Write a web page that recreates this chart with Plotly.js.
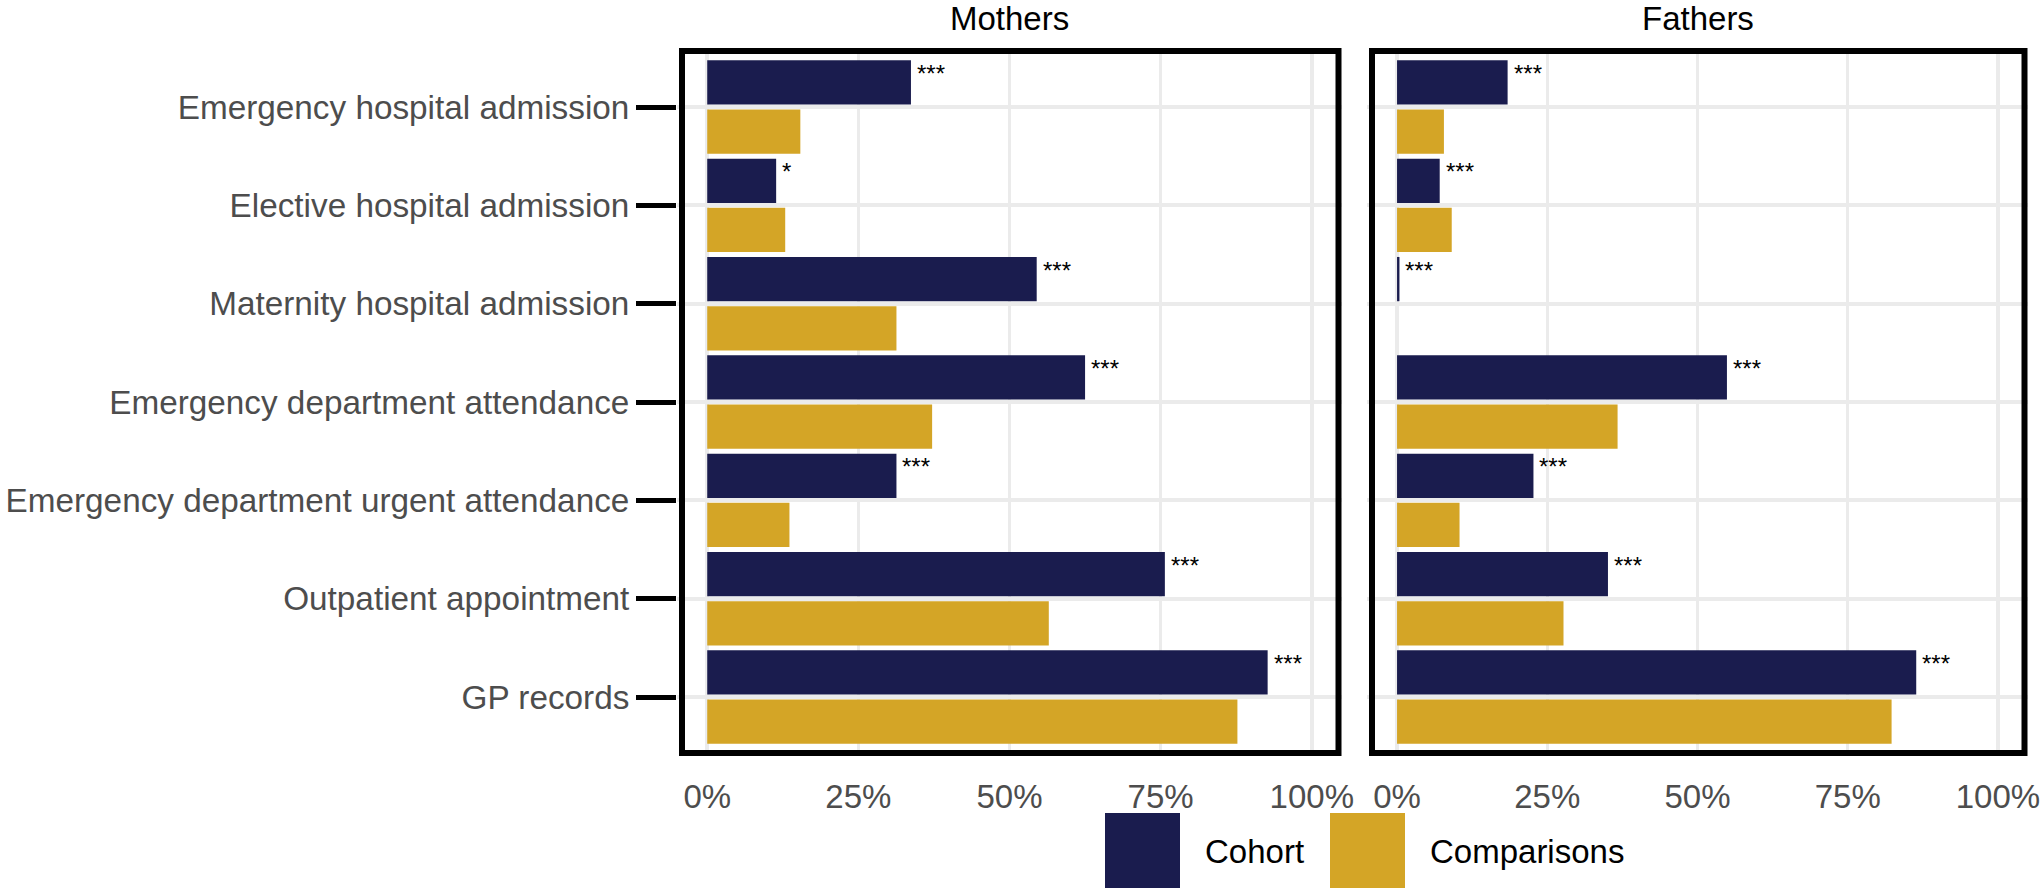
<!DOCTYPE html>
<html>
<head>
<meta charset="utf-8">
<script src="https://cdn.plot.ly/plotly-3.0.1.min.js"></script>
<style>
  html, body { margin: 0; padding: 0; background: #fff; }
  #chart { width: 2040px; height: 888px; }
</style>
</head>
<body>
<div id="chart"></div>
<script>
// categories, top to bottom
let categories = [
    'Emergency hospital admission',
    'Elective hospital admission',
    'Maternity hospital admission',
    'Emergency department attendance',
    'Emergency department urgent attendance',
    'Outpatient appointment',
    'GP records'
];
let panels = ['Mothers', 'Fathers'];
let seriesNames = ['Cohort', 'Comparisons'];

// percentages
let mothersCohort = [33.7, 11.4, 54.5, 62.5, 31.3, 75.7, 92.7];
let mothersComparisons = [15.4, 12.9, 31.3, 37.2, 13.6, 56.5, 87.7];
let fathersCohort = [18.4, 7.1, 0.4, 54.9, 22.7, 35.1, 86.4];
let fathersComparisons = [7.8, 9.1, 0, 36.7, 10.4, 27.7, 82.3];

// significance stars next to the cohort bars
let mothersStars = ['***', '*', '***', '***', '***', '***', '***'];
let fathersStars = ['***', '***', '***', '***', '***', '***', '***'];

let tickValues = [0, 25, 50, 75, 100];
let tickLabels = ['0%', '25%', '50%', '75%', '100%'];

let colors = ['#1a1c4e', '#d4a526'];
let font = 'Liberation Sans, Arial, sans-serif';
let W = 2040, H = 888;
let px = x => x / W;
let py = y => 1 - y / H;

// plot area in pixels
let panelX = [[677, 1342], [1367, 2028]];
let panelY = [48, 756];

function bars(values, name, color, xa, ya) {
    return {
        type: 'bar',
        orientation: 'h',
        x: values,
        y: categories,
        name: name,
        xaxis: xa,
        yaxis: ya,
        marker: {color: color, line: {width: 0}},
        showlegend: false,
        hoverinfo: 'x+y'
    };
}

let data = [
    bars(mothersCohort, seriesNames[0], colors[0], 'x', 'y'),
    bars(mothersComparisons, seriesNames[1], colors[1], 'x', 'y'),
    bars(fathersCohort, seriesNames[0], colors[0], 'x2', 'y2'),
    bars(fathersComparisons, seriesNames[1], colors[1], 'x2', 'y2')
];

function xaxis(i) {
    return {
        domain: [px(panelX[i][0]), px(panelX[i][1])],
        anchor: i == 0 ? 'y' : 'y2',
        range: [-5, 105],
        tickvals: tickValues,
        ticktext: tickLabels,
        ticks: '',
        ticklabelstandoff: 18,
        ticklabeloverflow: 'allow',
        tickfont: {family: font, size: 33, color: '#4d4d4d'},
        showgrid: true,
        gridcolor: '#ebebeb',
        gridwidth: 3.5,
        zeroline: false,
        showline: false,
        fixedrange: true
    };
}

function yaxis(i) {
    return {
        domain: [py(panelY[1]), py(panelY[0])],
        anchor: i == 0 ? 'x' : 'x2',
        type: 'category',
        categoryorder: 'array',
        categoryarray: categories,
        range: [6.6, -0.6],
        showgrid: true,
        gridcolor: '#ebebeb',
        gridwidth: 4,
        zeroline: false,
        showline: false,
        showticklabels: i == 0,
        ticks: i == 0 ? 'outside' : '',
        ticklen: 40,
        tickwidth: 5,
        tickcolor: '#000',
        ticklabelstandoff: 0,
        tickfont: {family: font, size: 33.3, color: '#4d4d4d'},
        automargin: false,
        fixedrange: true
    };
}

let annotations = [];
let shapes = [];

// stars
[[mothersCohort, mothersStars, 'x', 'y'], [fathersCohort, fathersStars, 'x2', 'y2']].forEach(p => {
    p[0].forEach((v, i) => {
        annotations.push({
            xref: p[2], yref: p[3],
            x: v, y: i - 0.25,
            text: p[1][i],
            showarrow: false,
            xanchor: 'left', yanchor: 'middle',
            xshift: 4, yshift: 9,
            font: {family: font, size: 24, color: '#000'}
        });
    });
});

// panel titles and borders
panels.forEach((name, i) => {
    annotations.push({
        xref: 'paper', yref: 'paper',
        x: px((panelX[i][0] + panelX[i][1]) / 2), y: 1,
        text: name, showarrow: false,
        xanchor: 'center', yanchor: 'top',
        yshift: 2,
        font: {family: font, size: 33, color: '#000'}
    });
    shapes.push({
        type: 'rect', xref: 'paper', yref: 'paper',
        x0: px(panelX[i][0] + 5), x1: px(panelX[i][1] - 3.5),
        y0: py(panelY[1] - 3), y1: py(panelY[0] + 3),
        line: {color: '#000', width: 6},
        fillcolor: 'rgba(0,0,0,0)'
    });
});

// legend drawn by hand: big square keys
let legendKeyX = [1105, 1330];
seriesNames.forEach((name, i) => {
    shapes.push({
        type: 'rect', xref: 'paper', yref: 'paper',
        x0: px(legendKeyX[i]), x1: px(legendKeyX[i] + 75),
        y0: py(888), y1: py(813),
        line: {width: 0},
        fillcolor: colors[i]
    });
    annotations.push({
        xref: 'paper', yref: 'paper',
        x: px(legendKeyX[i] + 98), y: py(851),
        text: name, showarrow: false,
        xanchor: 'left', yanchor: 'middle',
        font: {family: font, size: 33, color: '#000'}
    });
});

let layout = {
    width: W,
    height: H,
    margin: {l: 0, r: 0, t: 0, b: 0},
    paper_bgcolor: '#fff',
    plot_bgcolor: '#fff',
    barmode: 'group',
    bargap: 0,
    bargroupgap: 0.1,
    showlegend: false,
    xaxis: xaxis(0),
    xaxis2: xaxis(1),
    yaxis: yaxis(0),
    yaxis2: yaxis(1),
    annotations: annotations,
    shapes: shapes
};

Plotly.newPlot('chart', data, layout, {displayModeBar: false, staticPlot: true});
</script>
</body>
</html>
